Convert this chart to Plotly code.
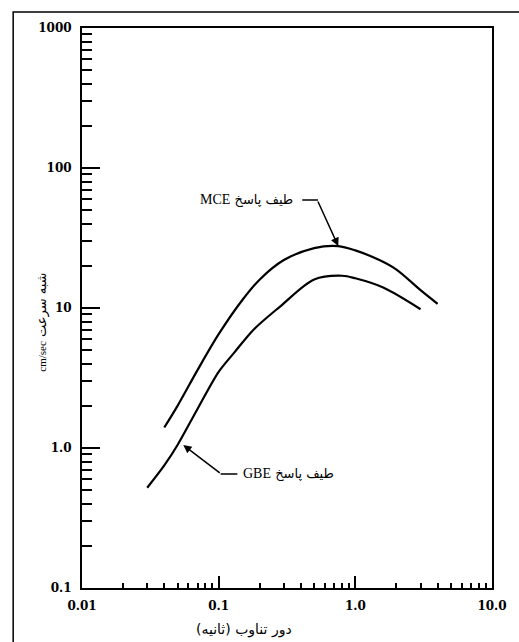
import math
import plotly.graph_objects as go

# Response spectra (pseudo-velocity, cm/sec) versus period (sec)
mce_period = [0.04, 0.05, 0.07, 0.1, 0.15, 0.2, 0.3, 0.5, 0.75, 1.0, 1.5, 2.0, 3.0, 4.0]
mce_velocity = [1.4, 2.0, 3.6, 6.5, 11.5, 16.0, 22.0, 26.8, 27.7, 25.8, 22.0, 18.8, 13.4, 10.7]

gbe_period = [0.03, 0.04, 0.05, 0.07, 0.1, 0.13, 0.18, 0.28, 0.5, 0.8, 1.0, 1.6, 3.0]
gbe_velocity = [0.52, 0.75, 1.05, 1.9, 3.5, 4.8, 7.0, 10.2, 16.0, 17.0, 16.3, 14.0, 9.8]

x_tickvals = [0.01, 0.1, 1.0, 10.0]
x_ticktext = ["0.01", "0.1", "1.0", "10.0"]
y_tickvals = [0.1, 1.0, 10.0, 100.0, 1000.0]
y_ticktext = ["0.1", "1.0", "10", "100", "1000"]
minor_vals = [m * 10.0 ** e for e in range(-2, 3) for m in range(2, 10)]

mce_label = "طیف پاسخ"
gbe_label = "طیف پاسخ"
x_title = "دور تناوب (ثانیه)"
y_title_unit = "cm/sec"
y_title_text = "شبه سرعت"

W, H = 519, 642
L, R, T, B = 82, 499, 28, 588


def px(x):
    return (x - L) / (R - L)


def py(y):
    return (B - y) / (B - T)


fig = go.Figure()
for xs, ys in [(mce_period, mce_velocity), (gbe_period, gbe_velocity)]:
    fig.add_trace(go.Scatter(
        x=xs, y=ys, mode="lines",
        line=dict(color="black", width=2.2, shape="spline", smoothing=0.9),
        showlegend=False, hoverinfo="skip",
    ))

tickfont = dict(family="DejaVu Serif", size=12, color="black", weight="bold")
axis_common = dict(
    type="log", showline=True, mirror=True, linecolor="black", linewidth=2,
    ticks="inside", tickwidth=2, tickcolor="black", showgrid=False,
    zeroline=False, tickfont=tickfont, tickmode="array",
)

fig.update_xaxes(
    **axis_common, range=[-2, 1], tickvals=x_tickvals, ticktext=x_ticktext,
    ticklen=12, ticklabelstandoff=6,
    minor=dict(ticks="inside", ticklen=5, tickwidth=1.5, tickcolor="black",
               tickmode="array", tickvals=minor_vals, showgrid=False),
)
fig.update_yaxes(
    **axis_common, range=[-1, 3], tickvals=y_tickvals, ticktext=y_ticktext,
    ticklen=18, ticklabelstandoff=6,
    minor=dict(ticks="inside", ticklen=10, tickwidth=2, tickcolor="black",
               tickmode="array", tickvals=minor_vals, showgrid=False),
)

persian = dict(family="DejaVu Sans", size=13, color="black")
serif = "Liberation Serif"

annotations = [
    # curve labels
    dict(xref="paper", yref="paper", x=px(299), y=py(200), xanchor="right",
         yanchor="middle", showarrow=False, font=persian,
         text=f"<span style='font-family:{serif};font-size:14px'>MCE</span> {mce_label}"),
    dict(xref="paper", yref="paper", x=px(244), y=py(474), xanchor="left",
         yanchor="middle", showarrow=False, font=persian,
         text=f"<span style='font-family:{serif};font-size:14px'>GBE</span> {gbe_label}"),
    # leader arrows
    dict(xref="x", yref="y", x=math.log10(0.75), y=math.log10(27.7), text="",
         showarrow=True, arrowhead=2, arrowsize=1.1, arrowwidth=1.5,
         arrowcolor="black", ax=-21, ay=-46, standoff=0, startstandoff=0),
    dict(xref="paper", yref="paper", x=px(185), y=py(445), text="",
         showarrow=True, arrowhead=2, arrowsize=1.1, arrowwidth=1.5,
         arrowcolor="black", ax=38, ay=29, standoff=0, startstandoff=0),
    # axis titles
    dict(xref="paper", yref="paper", x=px(298), y=py(629), xanchor="right",
         yanchor="middle", showarrow=False, text=x_title,
         font=dict(family="DejaVu Sans", size=14, color="black")),
    dict(xref="paper", yref="paper", x=px(41), y=py(322), xanchor="center",
         yanchor="middle", showarrow=False, textangle=-90,
         text=f"<span style='font-family:{serif};font-size:11px'>{y_title_unit}</span> {y_title_text}",
         font=dict(family="DejaVu Sans", size=13, color="black")),
]

shapes = [
    # horizontal leader segments
    dict(type="line", xref="paper", yref="paper", x0=px(306), x1=px(322),
         y0=py(200), y1=py(200), line=dict(color="black", width=1.5)),
    dict(type="line", xref="paper", yref="paper", x0=px(223), x1=px(240),
         y0=py(474), y1=py(474), line=dict(color="black", width=1.5)),
    # outer frame
    dict(type="rect", xref="paper", yref="paper", x0=px(12), x1=px(540),
         y0=py(12), y1=py(680), line=dict(color="black", width=1.5)),
]

fig.update_layout(
    width=W, height=H, autosize=False,
    margin=dict(l=L, r=W - R, t=T, b=H - B),
    paper_bgcolor="white", plot_bgcolor="white",
    annotations=annotations, shapes=shapes,
)

fig.write_html("out.html")
